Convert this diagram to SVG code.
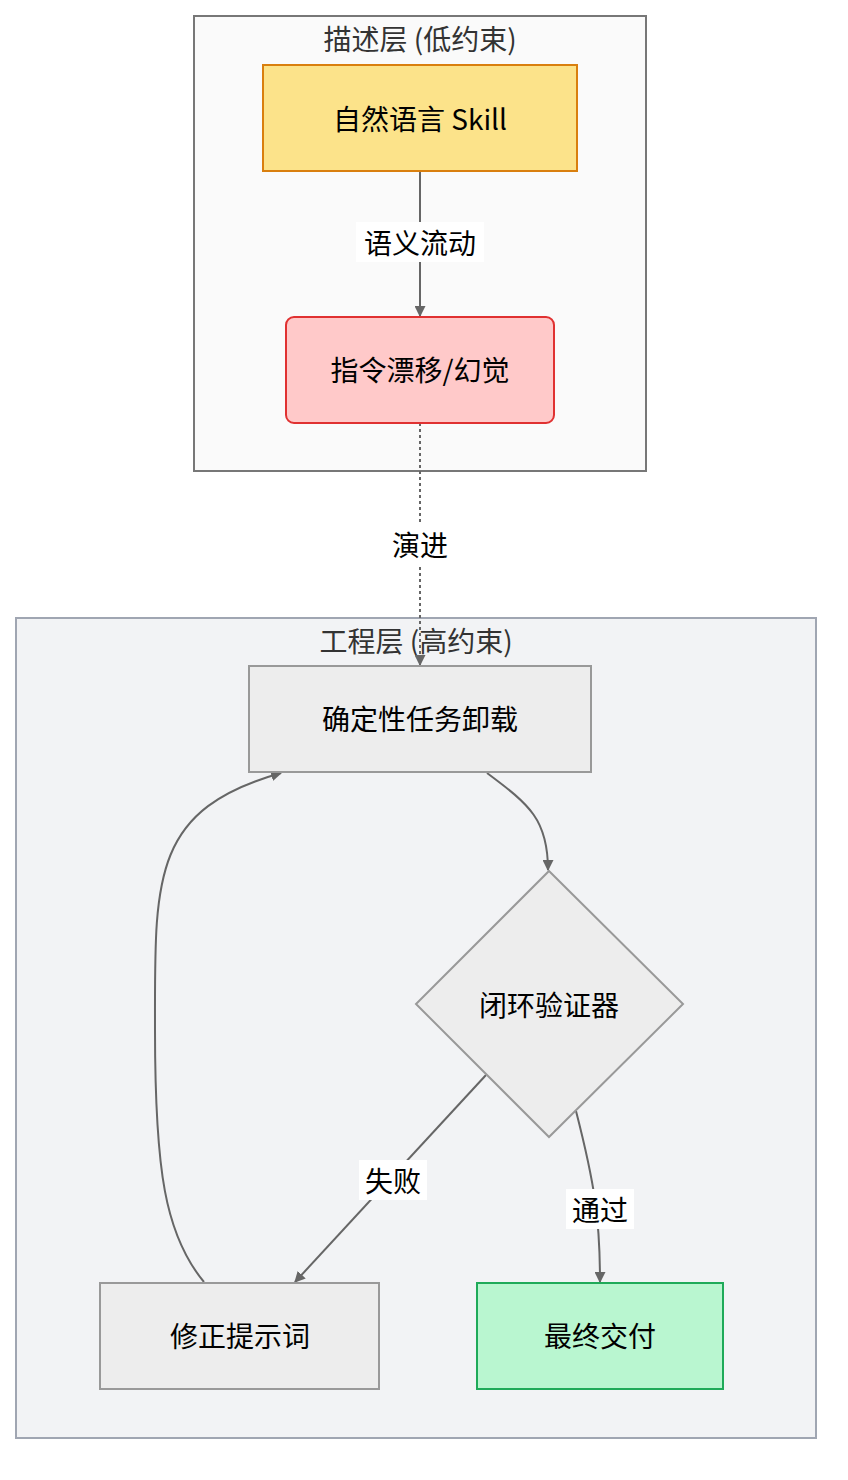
<svg xmlns="http://www.w3.org/2000/svg" width="848" height="1480" viewBox="0 0 848 1480">
<style>
text{font-family:"Noto Sans CJK SC","Noto Sans",sans-serif;text-anchor:middle;dominant-baseline:central;fill:#000}
.t{font-size:28px;fill:#333}
.n{font-size:28px}
.l{font-size:28px}
.e{fill:none;stroke:#666;stroke-width:2}
.lb{fill:#fff}
</style>
<defs><marker id="a" viewBox="0 0 10 10" refX="9" refY="5" markerWidth="8" markerHeight="8" markerUnits="userSpaceOnUse" orient="auto"><path d="M0,0L10,5L0,10z" fill="#666"/></marker>
<marker id="b" viewBox="0 0 10 10" refX="9" refY="5" markerWidth="11" markerHeight="11" orient="auto" markerUnits="userSpaceOnUse"><path d="M0,0L10,5L0,10z" fill="#666"/></marker></defs>
<g id="cluster1"><rect x="194" y="16" width="452" height="455" fill="#fafafa" stroke="#777" stroke-width="2"/><text class="t" x="420" y="38">描述层 (低约束)</text></g>
<g id="cluster2"><rect x="16" y="618" width="800" height="820" fill="#f2f3f5" stroke="#a0a6b2" stroke-width="2"/><text class="t" x="416" y="640">工程层 (高约束)</text></g>
<g id="edges">
<path class="e" d="M420,172V316" marker-end="url(#b)"/>
<rect class="lb" x="356" y="222" width="128" height="40"/><text class="l" x="420" y="242">语义流动</text>
<path class="e" d="M420,423V665" stroke-dasharray="3,3" marker-end="url(#b)"/>
<rect class="lb" x="386" y="524" width="68" height="40"/><text class="l" x="420" y="544">演进</text>
<path class="e" d="M487,773C530,805 548,820 548,870" marker-end="url(#b)"/>
<path class="e" d="M486,1075L295,1282" marker-end="url(#b)"/>
<rect class="lb" x="359" y="1160" width="68" height="40"/><text class="l" x="393" y="1180">失败</text>
<path class="e" d="M576,1111C595,1185 600,1220 600,1282" marker-end="url(#b)"/>
<rect class="lb" x="566" y="1189" width="68" height="40"/><text class="l" x="600" y="1209">通过</text>
<path class="e" d="M204,1282C165,1235 155,1170 155,1030C155,880 150,810 281,773" marker-end="url(#b)"/>
</g>
<g id="A"><rect x="263" y="65" width="314" height="106" fill="#fce38a" stroke="#d97f0e" stroke-width="2"/><text class="n" x="420" y="118">自然语言 Skill</text></g>
<g id="B"><rect x="286" y="317" width="268" height="106" rx="8" fill="#ffc9c9" stroke="#e03131" stroke-width="2"/><text class="n" x="420" y="369">指令漂移/幻觉</text></g>
<g id="C"><rect x="249" y="666" width="342" height="106" fill="#ededed" stroke="#999" stroke-width="2"/><text class="n" x="420" y="718">确定性任务卸载</text></g>
<g id="D"><path d="M549,871L683,1004L549,1137L416,1004z" fill="#ededed" stroke="#999" stroke-width="2"/><text class="n" x="549" y="1004">闭环验证器</text></g>
<g id="E"><rect x="100" y="1283" width="279" height="106" fill="#ededed" stroke="#999" stroke-width="2"/><text class="n" x="240" y="1335">修正提示词</text></g>
<g id="F"><rect x="477" y="1283" width="246" height="106" fill="#b9f6d0" stroke="#1faa59" stroke-width="2"/><text class="n" x="600" y="1335">最终交付</text></g>
</svg>
